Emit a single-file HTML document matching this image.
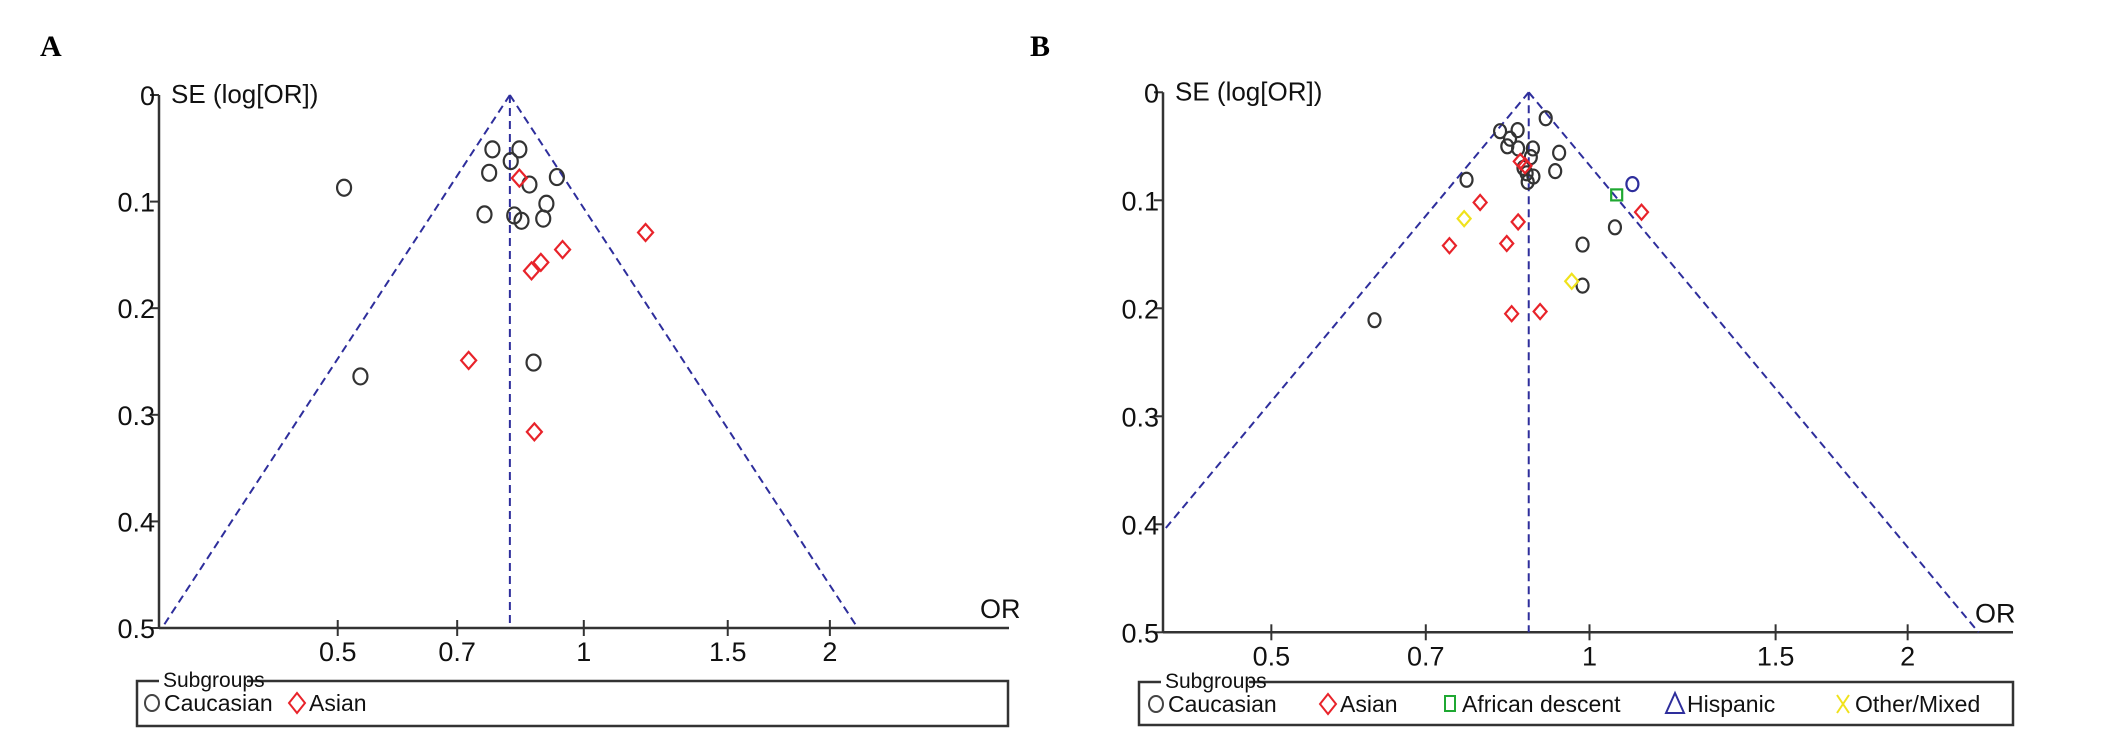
<!DOCTYPE html>
<html><head><meta charset="utf-8"><style>
html,body{margin:0;padding:0;background:#fff;}
svg{display:block;font-family:"Liberation Sans",sans-serif;}
</style></head><body>
<svg id="chart" width="2126" height="738" viewBox="0 0 2126 738" xmlns="http://www.w3.org/2000/svg">
<text x="40" y="56" font-family="Liberation Serif" font-weight="bold" font-size="30">A</text>
<text x="1030" y="56" font-family="Liberation Serif" font-weight="bold" font-size="30">B</text>
<g id="pa"></g>
<g id="pb"></g>
</svg>
<script>
// Panel A data
const aCauOR = [0.509,0.773,0.834,0.814,0.766,0.858,0.927,0.900,0.756,0.822,0.839,0.892,0.868,0.533];
const aCauSE = [0.087,0.051,0.051,0.062,0.073,0.084,0.077,0.102,0.112,0.113,0.118,0.116,0.251,0.264];
const aAsiOR = [0.834,1.19,0.942,0.886,0.863,0.723,0.870];
const aAsiSE = [0.078,0.129,0.145,0.157,0.165,0.249,0.316];
const aPooled = 0.812;
// Panel B data
const bCauOR = [0.909,0.823,0.855,0.841,0.836,0.856,0.884,0.880,0.936,0.928,0.866,0.872,0.885,0.874,0.765,1.057,0.985,0.985,0.626];
const bCauSE = [0.024,0.036,0.035,0.043,0.050,0.052,0.052,0.060,0.056,0.073,0.070,0.075,0.078,0.083,0.081,0.125,0.141,0.179,0.211];
const bAsiOR = [0.860,0.869,0.788,0.737,0.856,0.835,1.120,0.844,0.898];
const bAsiSE = [0.064,0.068,0.102,0.142,0.120,0.140,0.111,0.205,0.203];
const bAfrOR = [1.061];
const bAfrSE = [0.095];
const bHisOR = [1.098];
const bHisSE = [0.085];
const bOthOR = [0.761,0.962];
const bOthSE = [0.117,0.175];
const bPooled = 0.876;
const xTicks = [0.5,0.7,1,1.5,2];
const xTickLabels = ["0.5","0.7","1","1.5","2"];
const yTicks = [0,0.1,0.2,0.3,0.4,0.5];
const yTickLabels = ["0","0.1","0.2","0.3","0.4","0.5"];

const NS="http://www.w3.org/2000/svg";
function mk(parent,tag,attrs){const e=document.createElementNS(NS,tag);for(const k in attrs)e.setAttribute(k,attrs[k]);parent.appendChild(e);return e;}
const BLUE="#2e2e9c";

function panel(g,cfg){
  const xs=or=>cfg.x1+cfg.k*Math.log(or);
  const ys=se=>cfg.y0+cfg.ky*se;
  const bottom=ys(0.5);
  // axes
  let e=mk(g,'line',{x1:cfg.left,y1:ys(0),x2:cfg.left,y2:bottom,stroke:'#333','stroke-width':2.5});
  
  
  e=mk(g,'line',{x1:cfg.left,y1:bottom,x2:cfg.right,y2:bottom,stroke:'#333','stroke-width':2.5});
  
  
  yTicks.forEach((v,i)=>{
    const y=ys(v);
    let t=mk(g,'line',{x1:cfg.left-9,y1:y,x2:cfg.left,y2:y,stroke:'#333','stroke-width':2});
    
    
    let tx=mk(g,'text',{x:cfg.left-4,y:y+10,'text-anchor':'end','font-size':27,fill:'#111'});
    tx.textContent=yTickLabels[i];
    
    
  });
  xTicks.forEach((v,i)=>{
    const x=xs(v);
    let t=mk(g,'line',{x1:x,y1:bottom-8,x2:x,y2:bottom+8,stroke:'#333','stroke-width':2});
    
    
    let tx=mk(g,'text',{x:x,y:bottom+33,'text-anchor':'middle','font-size':27,fill:'#111'});
    tx.textContent=xTickLabels[i];
    
    
  });
  let tt=mk(g,'text',{x:cfg.left+12,y:ys(0)+8,'font-size':26,fill:'#111'});
  tt.textContent='SE (log[OR])';
  
  
  tt=mk(g,'text',{x:cfg.orX,y:bottom-10,'font-size':27,fill:'#111'});
  tt.textContent='OR';
  
  
  // funnel
  const px=xs(cfg.pooled), ax=ys(0);
  const lnP=Math.log(cfg.pooled);
  const seL=Math.min(0.5,(lnP-Math.log(Math.exp((cfg.left-cfg.x1)/cfg.k)))/1.96);
  const lx=xs(Math.exp(lnP-1.96*seL)), rx=xs(Math.exp(lnP+1.96*0.5));
  const dash={stroke:BLUE,'stroke-width':2,'stroke-dasharray':'8,5',fill:'none'};
  e=mk(g,'line',Object.assign({x1:px,y1:ax,x2:px,y2:bottom},dash));
  
  
  e=mk(g,'line',Object.assign({x1:px,y1:ax,x2:lx,y2:ys(seL)},dash));
  
  
  e=mk(g,'line',Object.assign({x1:px,y1:ax,x2:rx,y2:bottom},dash));
  
  
  // points
  cfg.series.forEach(s=>{
    s.or.forEach((o,i)=>{
      const x=xs(o),y=ys(s.se[i]);const r=cfg.r;
      let m;
      if(s.shape==='circle') m=mk(g,'ellipse',{cx:x,cy:y,rx:r-0.5,ry:r+0.5,fill:'none',stroke:s.color,'stroke-width':2.2});
      else if(s.shape==='diamond') m=mk(g,'polygon',{points:`${x},${y-r-1} ${x+r},${y} ${x},${y+r+1} ${x-r},${y}`,fill:'none',stroke:s.color,'stroke-width':2.2});
      else m=mk(g,'rect',{x:x-r+1,y:y-r+1,width:2*r-2,height:2*r-2,fill:'none',stroke:s.color,'stroke-width':2.2});
      
      
    });
  });
  // legend
  const L=cfg.legend;
  let box=mk(g,'rect',{x:L.x,y:L.y,width:L.w,height:L.h,fill:'none',stroke:'#333','stroke-width':2.5});
  
  
  mk(g,'rect',{x:L.x+22,y:L.y-4,width:88,height:8,fill:'#fff'});
  let st=mk(g,'text',{x:L.x+26,y:L.y+6,'font-size':21,fill:'#111'});
  st.textContent='Subgroups';
  
  
  L.items.forEach(it=>{
    const cy=L.y+22, x=it.x;
    let m;
    if(it.shape==='circle') m=mk(g,'ellipse',{cx:x,cy:cy,rx:7,ry:8,fill:'none',stroke:it.color,'stroke-width':2});
    else if(it.shape==='diamond') m=mk(g,'polygon',{points:`${x},${cy-10} ${x+8},${cy} ${x},${cy+10} ${x-8},${cy}`,fill:'none',stroke:it.color,'stroke-width':2});
    else if(it.shape==='square') m=mk(g,'rect',{x:x-5,y:cy-8,width:10,height:15,fill:'none',stroke:it.color,'stroke-width':2});
    else if(it.shape==='triangle') m=mk(g,'polygon',{points:`${x},${cy-11} ${x+9},${cy+9} ${x-9},${cy+9}`,fill:'none',stroke:it.color,'stroke-width':2});
    else {m=mk(g,'path',{d:`M${x-6},${cy-9}L${x+6},${cy+9}M${x+6},${cy-9}L${x-6},${cy+9}`,stroke:it.color,'stroke-width':2,fill:'none'});}
    
    
    let t=mk(g,'text',{x:x+12,y:cy+8,'font-size':23,fill:'#111'});
    t.textContent=it.label;
    
    
  });
}

panel(document.getElementById('pa'),{
  x1:583.8,k:355,y0:95,ky:1066,left:159,right:1009,orX:980,pooled:aPooled,r:7.5,
  series:[{name:'caucasian',or:aCauOR,se:aCauSE,shape:'circle',color:'#333'},
          {name:'asian',or:aAsiOR,se:aAsiSE,shape:'diamond',color:'#e8232a'}],
  legend:{x:137,y:681,w:871,h:45,items:[
    {shape:'circle',color:'#444',label:'Caucasian',x:152},
    {shape:'diamond',color:'#e8232a',label:'Asian',x:297}]}
});
panel(document.getElementById('pb'),{
  x1:1589.5,k:459,y0:92.3,ky:1080,left:1163,right:2013,orX:1975,pooled:bPooled,r:6.5,
  series:[{name:'caucasian',or:bCauOR,se:bCauSE,shape:'circle',color:'#333'},
          {name:'asian',or:bAsiOR,se:bAsiSE,shape:'diamond',color:'#e8232a'},
          {name:'african-descent',or:bAfrOR,se:bAfrSE,shape:'square',color:'#1fa832'},
          {name:'hispanic',or:bHisOR,se:bHisSE,shape:'circle',color:'#2e2e9c'},
          {name:'other-mixed',or:bOthOR,se:bOthSE,shape:'diamond',color:'#f0e21c'}],
  legend:{x:1139,y:682,w:874,h:43,items:[
    {shape:'circle',color:'#444',label:'Caucasian',x:1156},
    {shape:'diamond',color:'#e8232a',label:'Asian',x:1328},
    {shape:'square',color:'#1fa832',label:'African descent',x:1450},
    {shape:'triangle',color:'#2e2e9c',label:'Hispanic',x:1675},
    {shape:'x',color:'#f0e21c',label:'Other/Mixed',x:1843}]}
});
</script>
</body></html>
